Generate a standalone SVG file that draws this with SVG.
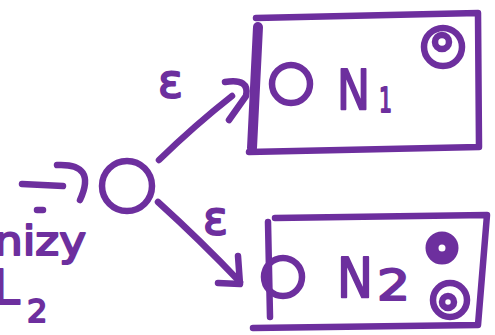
<svg xmlns="http://www.w3.org/2000/svg" width="495" height="335" viewBox="0 0 495 335">
<style>
.s{fill:none;stroke:#6d2f9e;stroke-width:6.5;stroke-linecap:round;stroke-linejoin:round}
.t{fill:#6d2f9e;stroke:#6d2f9e;stroke-width:2;stroke-linejoin:round;font-family:"DejaVu Sans",sans-serif}
</style>
<rect width="495" height="335" fill="#fff"/>
<g id="start">
<circle class="s" cx="127" cy="186" r="25"/>
</g>
<g id="connectors">
<path class="s" d="M22,184 L63,186"/>
<path class="s" d="M57,165 Q97,163 80,200"/>
<path class="s" d="M159,160 Q195,125 232,96"/>
<path class="s" d="M225,82 Q250,78 246,96 L229,120"/>
<path class="s" d="M158,202 Q200,240 240,282"/>
<path class="s" d="M218,283 L240,284 L238,256"/>
<text class="t" x="158" y="97" font-size="46">ε</text>
<text class="t" x="203" y="234" font-size="46">ε</text>
</g>
<g id="N1">
<path class="s" d="M256,18 L478,13 L479,147 L249,152"/>
<path d="M258,27 L252,148" fill="none" stroke="#6d2f9e" stroke-width="10" stroke-linecap="round"/>
<circle class="s" cx="291" cy="84" r="19"/>
<text class="t" x="337" y="109" font-size="56" textLength="33" lengthAdjust="spacingAndGlyphs">N</text>
<text class="t" x="379" y="112" font-size="34" textLength="13" lengthAdjust="spacingAndGlyphs">1</text>
<circle class="s" cx="443" cy="47" r="19"/>
<circle class="s" cx="442" cy="42" r="7"/>
</g>
<g id="N2">
<path class="s" d="M275,218 L487,215 L478,325 L253,328"/>
<path class="s" d="M268,222 L270,317"/>
<circle class="s" cx="283" cy="277" r="19"/>
<text class="t" x="337" y="297" font-size="56" textLength="36" lengthAdjust="spacingAndGlyphs">N</text>
<text class="t" x="377" y="300" font-size="42" textLength="33" lengthAdjust="spacingAndGlyphs">2</text>
<circle cx="442" cy="248" r="10" fill="none" stroke="#6d2f9e" stroke-width="13"/>
<circle class="s" cx="450" cy="300" r="17"/>
<circle class="s" cx="448" cy="302" r="6"/>
</g>
<g id="side-text">
<path class="s" d="M37,210 L43,210"/>
<text class="t" x="-6" y="255" font-size="40" textLength="92" lengthAdjust="spacingAndGlyphs">nizy</text>
<text class="t" x="-7" y="304" font-size="48">L</text>
<text class="t" x="27" y="322" font-size="32">2</text>
</g>
</svg>
